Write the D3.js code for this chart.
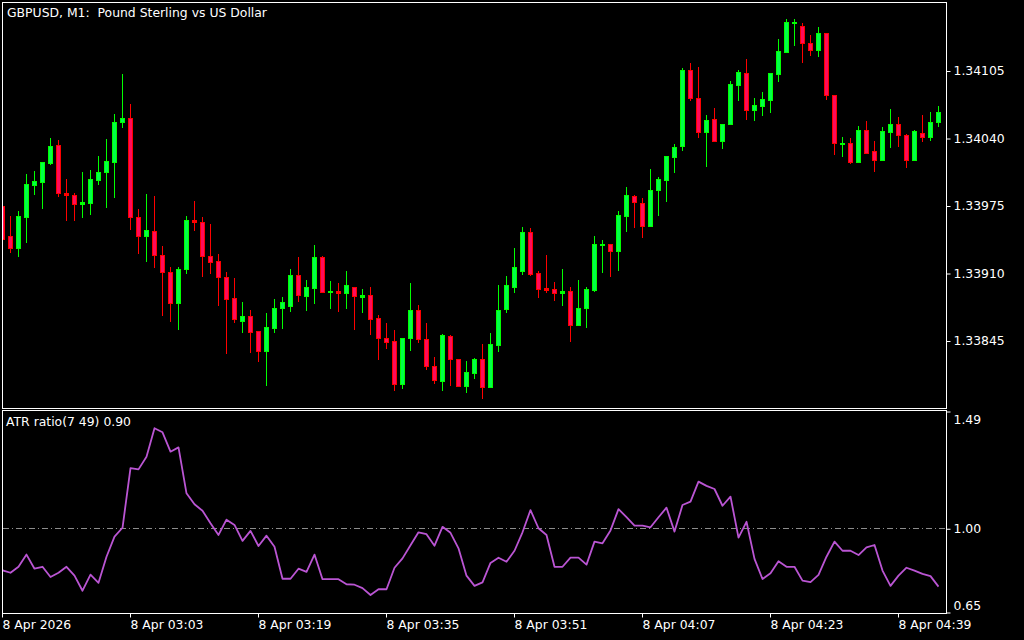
<!DOCTYPE html>
<html><head><meta charset="utf-8">
<script src="https://cdn.jsdelivr.net/npm/d3@7"></script>
<style>html,body{margin:0;padding:0;background:#000;}svg{display:block}</style>
</head><body>
<svg id="chart" width="1024" height="640"></svg>
<script>
const startTime = "2026-04-08 02:47";
const barCount = 118;
const open = [1.33975,1.33946,1.33934,1.33964,1.33995,1.33998,1.34016,1.34033,1.33987,1.33985,
1.33976,1.33977,1.34000,1.34007,1.34017,1.34055,1.34059,1.33964,1.33946,1.33950,
1.33927,1.33911,1.33881,1.33914,1.33961,1.33959,1.33926,1.33922,1.33906,1.33886,
1.33864,1.33869,1.33854,1.33835,1.33857,1.33876,1.33878,1.33908,1.33888,1.33896,
1.33925,1.33892,1.33893,1.33891,1.33897,1.33887,1.33889,1.33867,1.33847,1.33845,
1.33803,1.33847,1.33874,1.33846,1.33820,1.33806,1.33849,1.33827,1.33801,1.33814,
1.33827,1.33800,1.33841,1.33875,1.33897,1.33912,1.33949,1.33910,1.33896,1.33895,
1.33891,1.33893,1.33860,1.33876,1.33894,1.33937,1.33938,1.33931,1.33965,1.33984,
1.33977,1.33955,1.33990,1.34000,1.34022,1.34032,1.34105,1.34079,1.34046,1.34058,
1.34037,1.34053,1.34091,1.34103,1.34067,1.34071,1.34077,1.34102,1.34123,1.34151,
1.34148,1.34131,1.34125,1.34141,1.34081,1.34034,1.34035,1.34017,1.34048,1.34027,
1.34019,1.34046,1.34053,1.34043,1.34019,1.34045,1.34041,1.34055];
const high = [1.33978,1.33965,1.33970,1.34005,1.34008,1.34017,1.34040,1.34038,1.34001,1.33987,
1.34007,1.34009,1.34023,1.34039,1.34063,1.34102,1.34073,1.33972,1.33986,1.33984,
1.33936,1.33916,1.33916,1.33965,1.33979,1.33964,1.33957,1.33928,1.33911,1.33905,
1.33882,1.33874,1.33854,1.33871,1.33885,1.33887,1.33914,1.33925,1.33903,1.33937,
1.33926,1.33902,1.33900,1.33912,1.33897,1.33895,1.33897,1.33870,1.33862,1.33855,
1.33847,1.33900,1.33879,1.33862,1.33829,1.33851,1.33850,1.33827,1.33825,1.33828,
1.33842,1.33852,1.33898,1.33907,1.33934,1.33954,1.33953,1.33912,1.33927,1.33901,
1.33914,1.33897,1.33903,1.33897,1.33946,1.33942,1.33938,1.33970,1.33993,1.33985,
1.33982,1.34010,1.34002,1.34023,1.34034,1.34107,1.34112,1.34108,1.34062,1.34069,
1.34053,1.34095,1.34105,1.34116,1.34079,1.34084,1.34103,1.34135,1.34155,1.34155,
1.34151,1.34139,1.34147,1.34141,1.34081,1.34041,1.34040,1.34052,1.34056,1.34037,
1.34051,1.34068,1.34060,1.34044,1.34048,1.34062,1.34065,1.34071];
const low = [1.33940,1.33930,1.33926,1.33940,1.33986,1.33973,1.34015,1.33984,1.33961,1.33961,
1.33964,1.33967,1.33996,1.33974,1.33983,1.34051,1.33952,1.33929,1.33922,1.33916,
1.33870,1.33864,1.33856,1.33910,1.33951,1.33907,1.33910,1.33879,1.33833,1.33863,
1.33853,1.33834,1.33825,1.33802,1.33853,1.33857,1.33873,1.33883,1.33874,1.33881,
1.33892,1.33876,1.33873,1.33876,1.33856,1.33872,1.33851,1.33827,1.33838,1.33797,
1.33799,1.33836,1.33844,1.33818,1.33804,1.33797,1.33802,1.33801,1.33795,1.33809,
1.33790,1.33800,1.33835,1.33872,1.33892,1.33909,1.33908,1.33887,1.33892,1.33884,
1.33879,1.33845,1.33860,1.33858,1.33893,1.33911,1.33907,1.33913,1.33950,1.33954,
1.33945,1.33955,1.33966,1.33979,1.34007,1.34028,1.34077,1.34041,1.34013,1.34037,
1.34030,1.34053,1.34077,1.34058,1.34057,1.34062,1.34065,1.34095,1.34123,1.34130,
1.34113,1.34120,1.34119,1.34078,1.34025,1.34023,1.34016,1.34017,1.34026,1.34008,
1.34019,1.34031,1.34032,1.34012,1.34019,1.34037,1.34038,1.34052];
const close = [1.33943,1.33934,1.33965,1.33996,1.33999,1.34017,1.34032,1.33987,1.33985,1.33976,
1.33978,1.34001,1.34007,1.34018,1.34055,1.34059,1.33964,1.33946,1.33951,1.33927,
1.33911,1.33881,1.33914,1.33961,1.33959,1.33926,1.33921,1.33906,1.33885,1.33866,
1.33869,1.33853,1.33835,1.33858,1.33876,1.33882,1.33908,1.33889,1.33897,1.33925,
1.33892,1.33893,1.33891,1.33898,1.33888,1.33889,1.33866,1.33847,1.33844,1.33803,
1.33847,1.33874,1.33846,1.33820,1.33807,1.33850,1.33827,1.33801,1.33815,1.33827,
1.33800,1.33842,1.33874,1.33898,1.33916,1.33949,1.33909,1.33895,1.33894,1.33891,
1.33893,1.33860,1.33876,1.33895,1.33938,1.33938,1.33931,1.33966,1.33985,1.33978,
1.33955,1.33990,1.34001,1.34023,1.34031,1.34105,1.34079,1.34046,1.34057,1.34037,
1.34053,1.34092,1.34104,1.34067,1.34072,1.34078,1.34103,1.34124,1.34152,1.34152,
1.34131,1.34125,1.34141,1.34081,1.34035,1.34035,1.34017,1.34048,1.34026,1.34019,
1.34047,1.34053,1.34043,1.34019,1.34047,1.34041,1.34055,1.34065];
const atrRatio = [0.824,0.814,0.839,0.890,0.831,0.839,0.796,0.814,0.839,0.802,
0.739,0.806,0.772,0.881,0.965,1.002,1.251,1.246,1.299,1.418,
1.401,1.320,1.338,1.146,1.100,1.073,1.021,0.972,1.036,1.014,
0.947,0.989,0.926,0.969,0.923,0.789,0.789,0.831,0.818,0.890,
0.787,0.787,0.787,0.766,0.764,0.750,0.721,0.745,0.745,0.835,
0.874,0.929,0.983,0.975,0.927,1.006,0.981,0.916,0.802,0.759,
0.774,0.855,0.877,0.860,0.906,0.983,1.076,1.000,0.972,0.839,
0.839,0.877,0.877,0.848,0.944,0.937,0.991,1.080,1.046,1.011,
1.011,1.004,1.046,1.086,0.986,1.097,1.111,1.195,1.177,1.164,
1.094,1.132,0.961,1.027,0.872,0.788,0.812,0.862,0.839,0.839,
0.781,0.775,0.805,0.881,0.944,0.906,0.906,0.888,0.920,0.930,
0.823,0.759,0.802,0.835,0.823,0.809,0.800,0.756];
const priceTicks = [1.34105, 1.34040, 1.33975, 1.33910, 1.33845];
const atrTicks = [1.49, 1.00, 0.65];
const atrLevel = 1.00;
const timeTicks = ["02:47","03:03","03:19","03:35","03:51","04:07","04:23","04:39"];
const timeTickLabels = ["8 Apr 2026","8 Apr 03:03","8 Apr 03:19","8 Apr 03:35","8 Apr 03:51","8 Apr 04:07","8 Apr 04:23","8 Apr 04:39"];
const titleText = "GBPUSD, M1:  Pound Sterling vs US Dollar";
const atrTitle = "ATR ratio(7 49) 0.90";

const parse = d3.timeParse("%Y-%m-%d %H:%M");
const fmt = d3.timeFormat("%H:%M");
const t0 = parse(startTime);
const times = d3.range(barCount).map(i => fmt(d3.timeMinute.offset(t0, i)));

const FONT = "DejaVu Sans";
const FS = "12.4px";
const svg = d3.select("#chart");
svg.append("rect").attr("width",1024).attr("height",640).attr("fill","#000");

const L = 2.5, R = 946.5, mTop = 2.5, mBot = 408.5, sTop = 410.5, sBot = 613.5;
const x = d3.scaleBand().domain(times).range([-1.5, 942.5]).padding(0);
const cx = t => x(t) + x.bandwidth()/2;
const y = d3.scaleLinear().domain([1.33780, 1.34170]).range([408, 3]);
const ya = d3.scaleLinear().domain([0.65, 1.49]).range([612, 411]);

const defs = svg.append("defs");
defs.append("clipPath").attr("id","clipMain").append("rect").attr("x",3).attr("y",3).attr("width",943).attr("height",405);
defs.append("clipPath").attr("id","clipSub").append("rect").attr("x",3).attr("y",411).attr("width",943).attr("height",202);

// Candles
const bars = times.map((t,i)=>({t, o:open[i], h:high[i], l:low[i], c:close[i]}));
const gC = svg.append("g").attr("clip-path","url(#clipMain)");
const BULL_FILL = "#00ff48", BULL_LINE = "#00ff00", BEAR_FILL = "#ff0a5a", BEAR_LINE = "#ff0000";
bars.forEach(d => {
  const bull = d.c >= d.o;
  const X = cx(d.t);
  const line = bull ? BULL_LINE : BEAR_LINE;
  const fill = bull ? BULL_FILL : BEAR_FILL;
  const yH = Math.round(y(d.h)), yL = Math.round(y(d.l));
  gC.append("line").attr("x1",X).attr("x2",X).attr("y1",yH).attr("y2",yL+1)
    .attr("stroke",line).attr("stroke-width",1);
  const T = Math.round(Math.min(y(d.o), y(d.c)));
  const B = Math.round(Math.max(y(d.o), y(d.c)));
  if (B - T < 1) {
    gC.append("rect").attr("x",X-2.5).attr("y",T).attr("width",5).attr("height",1).attr("fill",line);
  } else if (B - T <= 2) {
    gC.append("rect").attr("x",X-2.5).attr("y",T).attr("width",5).attr("height",B-T+1).attr("fill",line);
  } else {
    gC.append("rect").attr("x",X-2).attr("y",T+0.5).attr("width",4).attr("height",B-T)
      .attr("fill",fill).attr("stroke",line).attr("stroke-width",1);
  }
});

// ATR panel
const gS = svg.append("g").attr("clip-path","url(#clipSub)");
gS.append("line").attr("x1",3).attr("x2",946).attr("y1",Math.round(ya(atrLevel))+0.5).attr("y2",Math.round(ya(atrLevel))+0.5)
  .attr("stroke","#8c8c8c").attr("stroke-width",1).attr("stroke-dasharray","6,3,1,3");
gS.append("path").datum(atrRatio)
  .attr("d", d3.line().x((d,i)=>cx(times[i])).y(d=>ya(d)))
  .attr("fill","none").attr("stroke","#ba55d3").attr("stroke-width",1.8).attr("stroke-linejoin","round");

// Borders
svg.append("rect").attr("x",L).attr("y",mTop).attr("width",R-L).attr("height",mBot-mTop).attr("fill","none").attr("stroke","#fff");
svg.append("rect").attr("x",L).attr("y",sTop).attr("width",R-L).attr("height",sBot-sTop).attr("fill","none").attr("stroke","#fff");

function styleAxis(g){
  g.select(".domain").remove();
  g.selectAll("line").attr("stroke","#fff");
  g.selectAll("text").attr("fill","#fff").attr("font-family",FONT).attr("font-size",FS);
}
// Price axis
const yAxis = d3.axisRight(y).tickValues(priceTicks).tickSize(4).tickPadding(3).tickFormat(d3.format(".5f"));
svg.append("g").attr("transform",`translate(${R},0.5)`).call(yAxis).call(styleAxis);
// ATR axis
const aAxis = d3.axisRight(ya).tickValues(atrTicks).tickSize(4).tickPadding(3).tickFormat(d3.format(".2f"));
const ga = svg.append("g").attr("transform",`translate(${R},0.5)`).call(aAxis).call(styleAxis);
ga.selectAll(".tick text").attr("dy", d => d === 1.49 ? "1.0em" : d === 0.65 ? "-0.25em" : "0.32em");
// Time axis
const xAxis = d3.axisBottom(x).tickValues(timeTicks).tickSize(4).tickPadding(3)
  .tickFormat(t => timeTickLabels[timeTicks.indexOf(t)]);
const gx = svg.append("g").attr("transform",`translate(0,${sBot})`).call(xAxis).call(styleAxis);
gx.selectAll(".tick text").attr("text-anchor","start").attr("x",0);

// Titles
svg.append("text").attr("x",7).attr("y",17).attr("fill","#fff").attr("font-family",FONT).attr("font-size",FS)
  .style("white-space","pre").text(titleText);
svg.append("text").attr("x",6).attr("y",426).attr("fill","#fff").attr("font-family",FONT).attr("font-size",FS)
  .style("white-space","pre").text(atrTitle);
</script>
</body></html>
